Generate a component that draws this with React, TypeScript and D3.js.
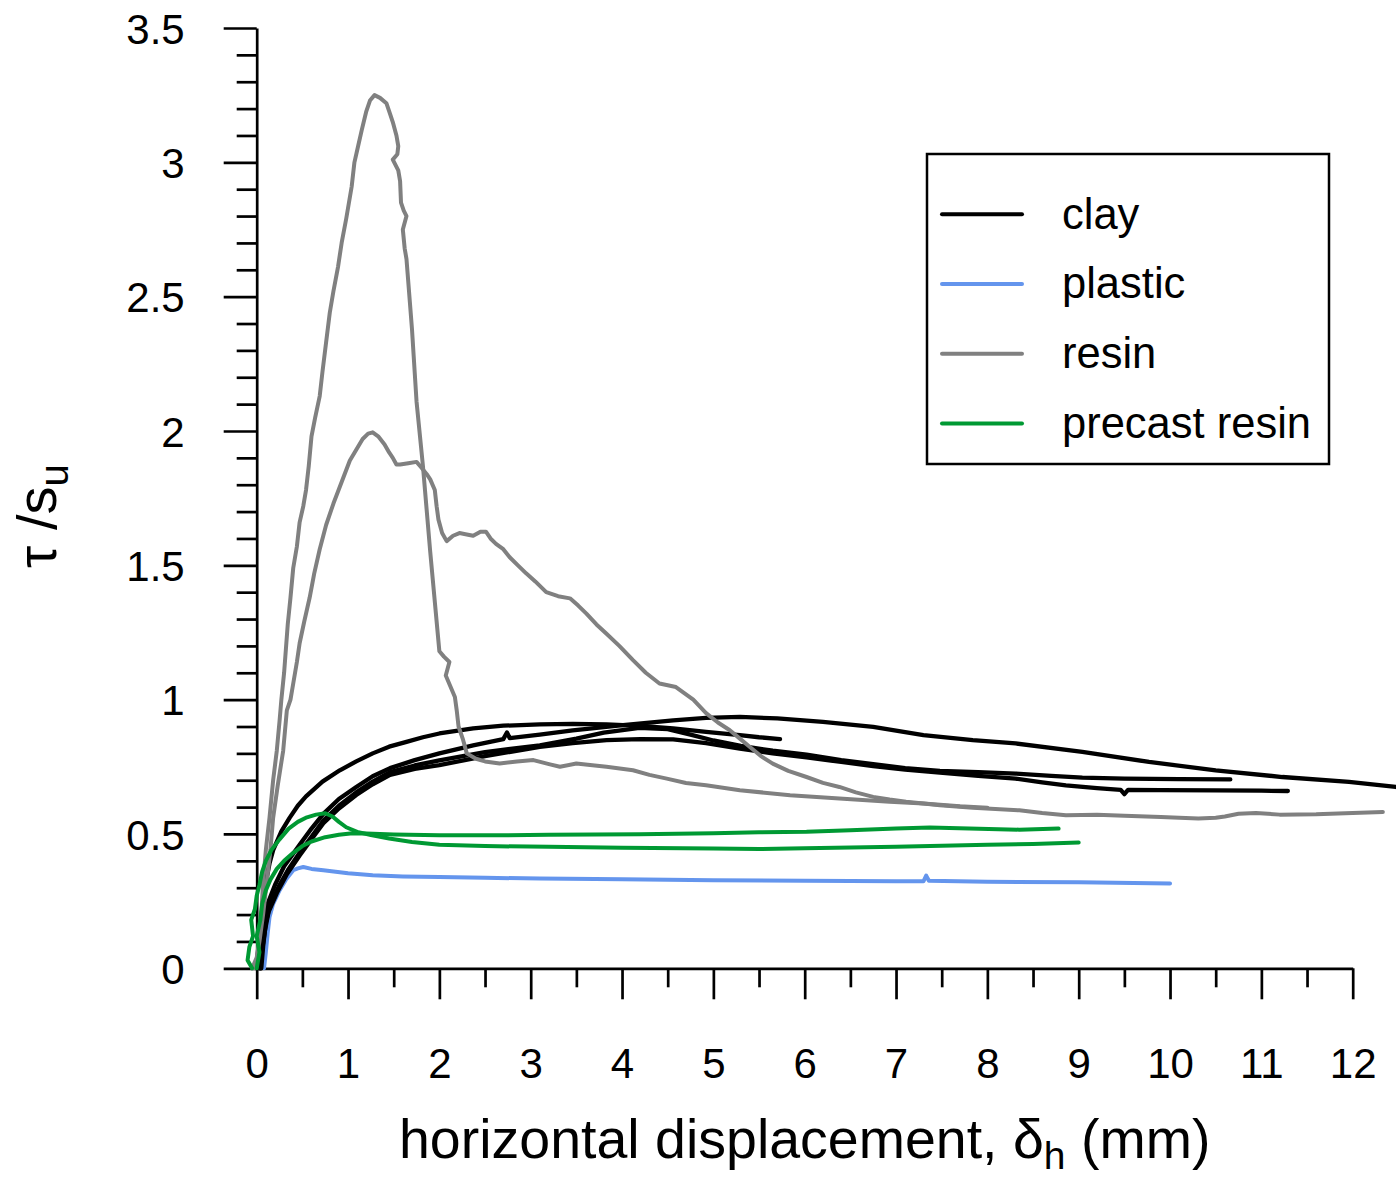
import React, { useEffect, useRef } from "react";
import * as d3 from "d3";

type Pt = [number, number];

// clay tests (black)
const clayA: Pt[] = [[0.0,0.0],[0.02,0.08],[0.04,0.16],[0.07,0.25],[0.1,0.32],[0.14,0.39],[0.18,0.44],[0.27,0.51],[0.36,0.56],[0.45,0.605],[0.54,0.64],[0.72,0.695],[0.91,0.737],[1.09,0.77],[1.27,0.8],[1.45,0.825],[1.64,0.843],[1.82,0.86],[2.0,0.874],[2.37,0.893],[2.7,0.903],[3.1,0.908],[3.46,0.91],[3.83,0.908],[4.2,0.902],[4.56,0.893],[4.92,0.88],[5.29,0.868],[5.5,0.86],[5.73,0.853]];
const clayB: Pt[] = [[0.05,0.0],[0.07,0.08],[0.1,0.17],[0.15,0.24],[0.25,0.31],[0.35,0.37],[0.47,0.43],[0.6,0.49],[0.73,0.55],[0.9,0.605],[1.09,0.655],[1.27,0.695],[1.46,0.73],[1.73,0.755],[2.0,0.774],[2.5,0.805],[3.1,0.83],[3.5,0.855],[3.8,0.877],[4.19,0.895],[4.5,0.89],[4.75,0.87],[5.0,0.848],[5.3,0.828],[5.65,0.81],[6.02,0.795],[6.4,0.775],[6.75,0.76],[7.1,0.745],[7.48,0.735],[7.9,0.73],[8.31,0.725],[8.7,0.716],[9.04,0.71],[9.5,0.706],[10.1,0.704],[10.66,0.703]];
const clayC: Pt[] = [[0.04,0.0],[0.06,0.07],[0.09,0.14],[0.13,0.21],[0.22,0.28],[0.33,0.35],[0.47,0.42],[0.6,0.48],[0.73,0.54],[0.9,0.595],[1.09,0.645],[1.27,0.685],[1.46,0.72],[1.73,0.742],[2.0,0.756],[2.5,0.79],[3.1,0.824],[3.46,0.838],[3.83,0.849],[4.2,0.853],[4.56,0.852],[4.92,0.838],[5.29,0.818],[5.65,0.8],[6.02,0.785],[6.4,0.768],[6.75,0.753],[7.1,0.74],[7.48,0.728],[7.9,0.716],[8.31,0.706],[8.6,0.692],[8.86,0.681],[9.2,0.671],[9.46,0.664],[9.5,0.648],[9.54,0.664],[9.9,0.663],[10.5,0.662],[11.0,0.661],[11.29,0.66]];
const clayD: Pt[] = [[0.03,0.0],[0.05,0.08],[0.08,0.16],[0.12,0.24],[0.2,0.31],[0.3,0.38],[0.47,0.46],[0.6,0.52],[0.73,0.575],[0.9,0.63],[1.09,0.675],[1.27,0.715],[1.46,0.745],[1.73,0.775],[2.0,0.8],[2.37,0.83],[2.7,0.853],[2.74,0.878],[2.77,0.857],[3.1,0.87],[3.46,0.886],[4.01,0.905],[4.56,0.923],[4.92,0.932],[5.29,0.936],[5.7,0.93],[6.2,0.917],[6.75,0.899],[7.3,0.868],[7.84,0.849],[8.31,0.837],[9.04,0.806],[9.77,0.768],[10.5,0.737],[11.23,0.712],[11.96,0.694],[12.47,0.675],[12.7,0.668]];

// plastic (blue)
const plastic: Pt[] = [[0.08,0.0],[0.1,0.06],[0.12,0.13],[0.14,0.19],[0.18,0.24],[0.25,0.29],[0.32,0.33],[0.4,0.365],[0.45,0.372],[0.51,0.377],[0.6,0.37],[0.73,0.365],[1.0,0.354],[1.27,0.346],[1.6,0.342],[2.0,0.34],[2.5,0.337],[3.1,0.334],[4.0,0.331],[5.0,0.328],[6.0,0.326],[7.0,0.324],[7.3,0.324],[7.33,0.345],[7.36,0.326],[8.0,0.322],[9.0,0.32],[10.0,0.316]];

// resin (grey)
const resinA: Pt[] = [[-0.03,0.0],[0.0,0.03],[0.03,0.12],[0.05,0.2],[0.07,0.32],[0.1,0.44],[0.14,0.56],[0.18,0.7],[0.22,0.81],[0.25,0.92],[0.27,1.0],[0.3,1.1],[0.34,1.28],[0.37,1.38],[0.4,1.49],[0.44,1.57],[0.47,1.66],[0.51,1.72],[0.54,1.78],[0.57,1.87],[0.6,1.98],[0.64,2.05],[0.69,2.13],[0.72,2.22],[0.76,2.33],[0.8,2.44],[0.84,2.52],[0.89,2.61],[0.93,2.7],[0.98,2.79],[1.04,2.91],[1.07,3.0],[1.11,3.06],[1.15,3.12],[1.2,3.19],[1.24,3.23],[1.29,3.25],[1.35,3.24],[1.42,3.22],[1.46,3.18],[1.49,3.15],[1.53,3.1],[1.55,3.06],[1.54,3.03],[1.49,3.01],[1.55,2.97],[1.57,2.93],[1.58,2.85],[1.61,2.82],[1.64,2.8],[1.6,2.75],[1.62,2.68],[1.64,2.64],[1.7,2.38],[1.75,2.11],[1.82,1.87],[1.9,1.55],[2.0,1.18],[2.05,1.16],[2.11,1.14],[2.07,1.09],[2.12,1.05],[2.17,1.01],[2.19,0.96],[2.21,0.9],[2.26,0.85],[2.3,0.8],[2.4,0.78],[2.5,0.77],[2.66,0.762],[2.85,0.77],[3.03,0.775],[3.2,0.76],[3.32,0.75],[3.5,0.762],[3.65,0.757],[3.83,0.75],[4.12,0.737],[4.3,0.72],[4.49,0.706],[4.7,0.69],[4.92,0.681],[5.29,0.663],[5.84,0.644],[6.38,0.632],[6.93,0.62],[7.3,0.613],[7.7,0.603],[8.0,0.598]];
const resinB: Pt[] = [[-0.05,0.0],[0.0,0.04],[0.03,0.1],[0.07,0.2],[0.11,0.32],[0.15,0.44],[0.18,0.56],[0.23,0.68],[0.29,0.81],[0.33,0.96],[0.37,1.0],[0.4,1.06],[0.44,1.14],[0.47,1.21],[0.52,1.29],[0.58,1.38],[0.63,1.47],[0.69,1.56],[0.76,1.65],[0.84,1.73],[0.93,1.81],[1.02,1.89],[1.09,1.93],[1.16,1.97],[1.22,1.99],[1.27,1.995],[1.33,1.98],[1.4,1.95],[1.45,1.92],[1.49,1.9],[1.53,1.875],[1.57,1.875],[1.66,1.88],[1.75,1.885],[1.8,1.865],[1.86,1.84],[1.9,1.82],[1.95,1.78],[1.97,1.72],[1.99,1.67],[2.03,1.62],[2.08,1.59],[2.15,1.61],[2.22,1.62],[2.3,1.615],[2.37,1.61],[2.45,1.625],[2.51,1.625],[2.56,1.6],[2.62,1.58],[2.7,1.56],[2.77,1.53],[2.86,1.5],[2.95,1.47],[3.05,1.44],[3.17,1.4],[3.3,1.385],[3.43,1.377],[3.52,1.35],[3.61,1.32],[3.72,1.28],[3.83,1.245],[3.97,1.2],[4.12,1.147],[4.26,1.1],[4.41,1.06],[4.59,1.047],[4.7,1.02],[4.78,1.0],[4.92,0.95],[5.05,0.915],[5.18,0.886],[5.29,0.855],[5.4,0.824],[5.52,0.79],[5.65,0.762],[5.82,0.735],[6.02,0.712],[6.2,0.69],[6.38,0.675],[6.56,0.655],[6.75,0.638],[6.93,0.628],[7.11,0.62],[7.3,0.613],[7.48,0.607],[7.84,0.598],[8.35,0.588],[8.6,0.578],[8.86,0.57],[9.2,0.572],[9.5,0.568],[9.9,0.563],[10.1,0.56],[10.31,0.558],[10.5,0.56],[10.6,0.565],[10.75,0.575],[10.94,0.578],[11.2,0.572],[11.6,0.573],[12.0,0.578],[12.33,0.582]];

// precast resin (green)
const precastA: Pt[] = [[-0.05,0.0],[-0.1,0.03],[-0.08,0.08],[-0.04,0.12],[-0.06,0.18],[-0.02,0.22],[0.0,0.27],[0.03,0.31],[0.06,0.36],[0.1,0.4],[0.16,0.44],[0.25,0.48],[0.35,0.52],[0.45,0.545],[0.55,0.562],[0.65,0.572],[0.75,0.577],[0.83,0.565],[0.9,0.545],[0.98,0.525],[1.1,0.508],[1.25,0.496],[1.45,0.483],[1.7,0.47],[2.0,0.46],[2.5,0.455],[3.2,0.452],[4.0,0.449],[5.0,0.446],[5.5,0.444],[6.0,0.447],[7.0,0.452],[8.0,0.46],[8.5,0.463],[9.0,0.468]];
const precastB: Pt[] = [[0.0,0.0],[0.03,0.06],[0.0,0.12],[0.04,0.18],[0.06,0.24],[0.1,0.29],[0.15,0.33],[0.22,0.37],[0.3,0.4],[0.4,0.43],[0.5,0.455],[0.6,0.472],[0.75,0.488],[0.9,0.497],[1.05,0.503],[1.2,0.502],[1.5,0.498],[2.0,0.495],[2.6,0.495],[3.2,0.497],[4.19,0.499],[5.0,0.503],[5.5,0.506],[6.02,0.508],[6.5,0.514],[7.0,0.52],[7.37,0.524],[7.8,0.52],[8.35,0.516],[8.78,0.52]];

const legendLabels = ["clay", "plastic", "resin", "precast resin"];
const colors = ["#000000", "#6495ed", "#808080", "#009933"];
const xTicks = d3.range(0, 13, 1);
const yTicks = d3.range(0, 3.51, 0.5);

// drawing order: plastic under clay, resin over clay, precast on top
const groups: { color: string; width: number; curves: Pt[][] }[] = [
    { color: colors[1], width: 4, curves: [plastic] },
    { color: colors[0], width: 4.3, curves: [clayA, clayB, clayC, clayD] },
    { color: colors[2], width: 4, curves: [resinA, resinB] },
    { color: colors[3], width: 4, curves: [precastA, precastB] }
];

const FONT = "'Liberation Sans', Arial, sans-serif";

export default function App() {
    const ref = useRef<SVGSVGElement>(null);

    const width = 1396;
    const height = 1180;

    const x = d3.scaleLinear().domain([0, 12]).range([256.7, 1352.7]);
    const y = d3.scaleLinear().domain([0, 3.5]).range([968.3, 28]);

    useEffect(() => {
        const svg = d3.select(ref.current);
        svg.selectAll("*").remove();

        const line = d3.line<Pt>()
            .x(d => x(d[0]))
            .y(d => y(d[1]));

        // minor ticks
        svg.append("g")
            .attr("transform", `translate(${x(0)},0)`)
            .call(d3.axisLeft(y).tickValues(d3.range(0, 3.51, 0.1).filter(v => Math.abs(v * 2 - Math.round(v * 2)) > 0.01)).tickSize(20).tickFormat(() => "").tickSizeOuter(0))
            .call(g => g.select(".domain").remove());
        svg.append("g")
            .attr("transform", `translate(0,${y(0)})`)
            .call(d3.axisBottom(x).tickValues(d3.range(0.5, 12, 1)).tickSize(19).tickFormat(() => "").tickSizeOuter(0))
            .call(g => g.select(".domain").remove());

        // y axis
        svg.append("g")
            .attr("transform", `translate(${x(0)},0)`)
            .call(d3.axisLeft(y).tickValues(yTicks).tickSize(33).tickPadding(39).tickSizeOuter(0).tickFormat(d3.format("~g")))
            .call(g => g.selectAll("text").attr("dy", "0.36em"));

        // x axis
        svg.append("g")
            .attr("transform", `translate(0,${y(0)})`)
            .call(d3.axisBottom(x).tickValues(xTicks).tickSize(31).tickPadding(49).tickSizeOuter(0).tickFormat(d3.format("d")));

        svg.selectAll(".tick line, .domain")
            .attr("stroke", "#000")
            .attr("stroke-width", 2.7);
        svg.selectAll(".tick text")
            .attr("fill", "#000")
            .style("font-family", FONT)
            .style("font-size", "42px");

        // data
        groups.forEach(grp => {
            grp.curves.forEach(c => {
                svg.append("path")
                    .datum(c)
                    .attr("fill", "none")
                    .attr("stroke", grp.color)
                    .attr("stroke-width", grp.width)
                    .attr("stroke-linejoin", "round")
                    .attr("stroke-linecap", "round")
                    .attr("d", line);
            });
        });

        // legend
        const lg = svg.append("g");
        lg.append("rect")
            .attr("x", 927).attr("y", 154)
            .attr("width", 402).attr("height", 310)
            .attr("fill", "#fff")
            .attr("stroke", "#000")
            .attr("stroke-width", 2.5);
        legendLabels.forEach((lab, i) => {
            const ly = 214.3 + i * 69.7;
            lg.append("line")
                .attr("x1", 942).attr("x2", 1022)
                .attr("y1", ly).attr("y2", ly)
                .attr("stroke", colors[i])
                .attr("stroke-width", 4)
                .attr("stroke-linecap", "round");
            lg.append("text")
                .attr("x", 1062).attr("y", ly)
                .attr("dy", "0.33em")
                .style("font-family", FONT)
                .style("font-size", "43.5px")
                .text(lab);
        });

        // axis titles
        const xt = svg.append("text")
            .attr("x", (x(0) + x(12)) / 2)
            .attr("y", 1158)
            .attr("text-anchor", "middle")
            .style("font-family", FONT)
            .style("font-size", "55.5px");
        xt.append("tspan").text("horizontal displacement, δ");
        xt.append("tspan").attr("dy", 11).style("font-size", "39px").text("h");
        xt.append("tspan").attr("dy", -11).text(" (mm)");

        const yt = svg.append("text")
            .attr("transform", `translate(56,${(y(0) + y(3.5)) / 2 + 18}) rotate(-90)`)
            .attr("text-anchor", "middle")
            .style("font-family", FONT)
            .style("font-size", "56px");
        yt.append("tspan").text("τ");
        yt.append("tspan").attr("dx", 16).text("/s");
        yt.append("tspan").attr("dy", 12).style("font-size", "40px").text("u");
    }, []);

    return (
        <div>
            <style>{"body{margin:0}"}</style>
            <svg ref={ref} width={width} height={height} style={{ display: "block", background: "#fff" }} />
        </div>
    );
}
